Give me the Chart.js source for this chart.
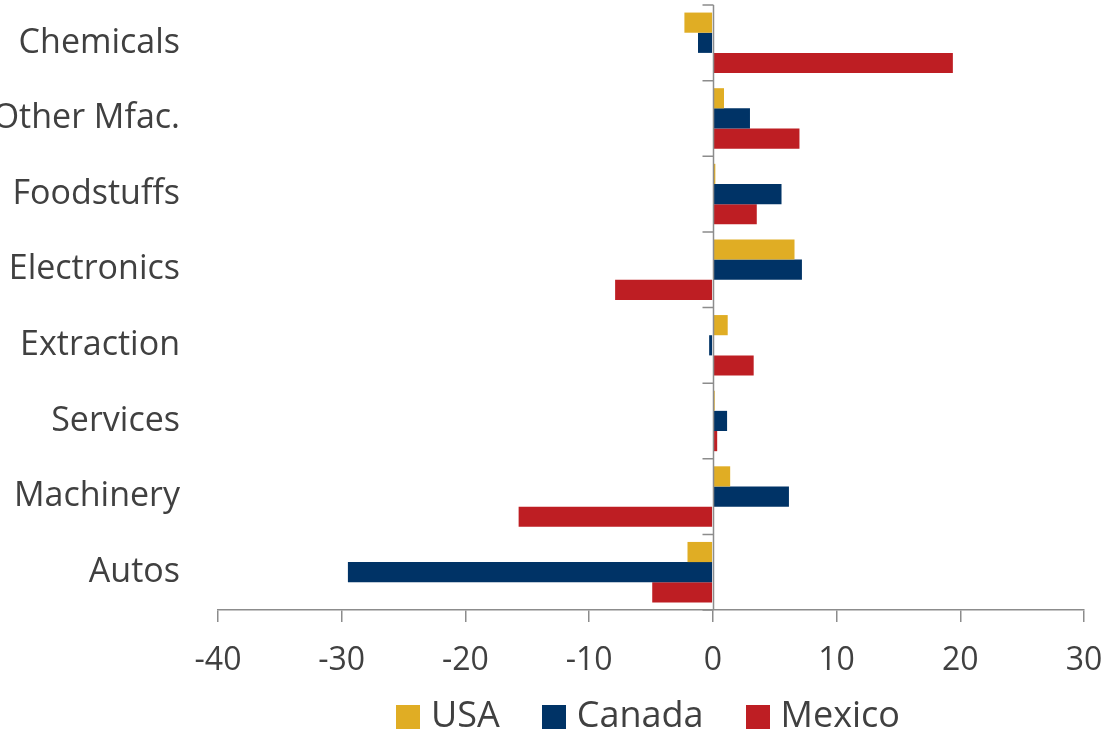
<!DOCTYPE html>
<html>
<head>
<meta charset="utf-8">
<script src="https://cdn.jsdelivr.net/npm/chart.js@4"></script>
<style>
  html, body { margin: 0; padding: 0; background: #fff; }
  #wrap { position: relative; width: 1102px; height: 735px; }
  #legend { position: absolute; left: 200px; top: 694px; width: 896px; text-align: center; white-space: nowrap;
            font-family: 'Open Sans', sans-serif; font-size: 36px; line-height: 40px; color: #404040; }
  #legend span.item { display: inline-block; margin: 0 21px; }
  #legend span.box { display: inline-block; width: 24px; height: 24px; margin-right: 11px; vertical-align: -2px; }
</style>
</head>
<body>
<div id="wrap">
  <canvas id="myChart" width="1102" height="735"></canvas>
  <div id="legend"></div>
</div>
<script>
var categories = ["Chemicals", "Other Mfac.", "Foodstuffs", "Electronics", "Extraction", "Services", "Machinery", "Autos"];
var seriesNames = ["USA", "Canada", "Mexico"];
var seriesColors = ["#e0ad24", "#003366", "#be1e23"];
var usa    = [-2.3, 0.9, 0.2, 6.6, 1.2, 0.15, 1.4, -2.05];
var canada = [-1.2, 3.0, 5.55, 7.2, -0.3, 1.15, 6.15, -29.5];
var mexico = [19.4, 7.0, 3.55, -7.9, 3.3, 0.35, -15.7, -4.9];
var xTicks = [-40, -30, -20, -10, 0, 10, 20, 30];

var axisGrey = "#8c8c8c";
var textGrey = "#404040";
var fontName = "'Open Sans', sans-serif";

// zero line with little ticks between the categories
var zeroLine = {
  id: "zeroLine",
  afterDatasetsDraw: function(chart){
    var ctx = chart.ctx;
    var xs = chart.scales.x;
    var ys = chart.scales.y;
    var x0 = Math.round(xs.getPixelForValue(0)) + 0.5;
    var area = chart.chartArea;
    ctx.save();
    ctx.strokeStyle = axisGrey;
    ctx.lineWidth = 1.5;
    ctx.beginPath();
    ctx.moveTo(x0, area.top);
    ctx.lineTo(x0, area.bottom);
    var band = (area.bottom - area.top) / categories.length;
    for (var i = 0; i <= categories.length; i++){
      var y = ys.getPixelForTick(0) - band / 2 + i * band;
      ctx.moveTo(x0 - 11, y);
      ctx.lineTo(x0, y);
    }
    ctx.stroke();
    ctx.restore();
  }
};

var chart = new Chart("myChart", {
  type: "bar",
  data: {
    labels: categories,
    datasets: [
      { label: seriesNames[0], data: usa, backgroundColor: seriesColors[0] },
      { label: seriesNames[1], data: canada, backgroundColor: seriesColors[1] },
      { label: seriesNames[2], data: mexico, backgroundColor: seriesColors[2] }
    ]
  },
  options: {
    indexAxis: "y",
    responsive: false,
    animation: false,
    devicePixelRatio: 1,
    categoryPercentage: 0.8,
    barPercentage: 1.0,
    layout: { padding: { top: 5, right: 18, bottom: 0, left: 0 } },
    scales: {
      x: {
        min: -40,
        max: 30,
        afterBuildTicks: function(axis){
          axis.ticks = xTicks.map(function(v){ return { value: v }; });
        },
        afterFit: function(axis){
          axis.height = 125;
          axis.paddingLeft = 0;
          axis.paddingRight = 0;
        },
        grid: { drawOnChartArea: false, drawTicks: true, tickLength: 12, color: axisGrey, lineWidth: 1.5 },
        border: { display: true, color: axisGrey, width: 1.5 },
        ticks: { color: textGrey, font: { family: fontName, size: 32 }, padding: 20, maxRotation: 0 }
      },
      y: {
        afterFit: function(axis){
          axis.width = 218;
          axis.paddingTop = 0;
          axis.paddingBottom = 0;
        },
        grid: { display: false, drawTicks: false },
        border: { display: false },
        ticks: { color: textGrey, font: { family: fontName, size: 34 }, padding: 38 }
      }
    },
    plugins: {
      legend: { display: false },
      tooltip: { enabled: false }
    }
  },
  plugins: [zeroLine]
});

var legend = document.getElementById("legend");
var html = "";
for (var i = 0; i < seriesNames.length; i++){
  html += '<span class="item"><span class="box" style="background:' + seriesColors[i] + '"></span>' + seriesNames[i] + '</span>';
}
legend.innerHTML = html;
</script>
</body>
</html>
